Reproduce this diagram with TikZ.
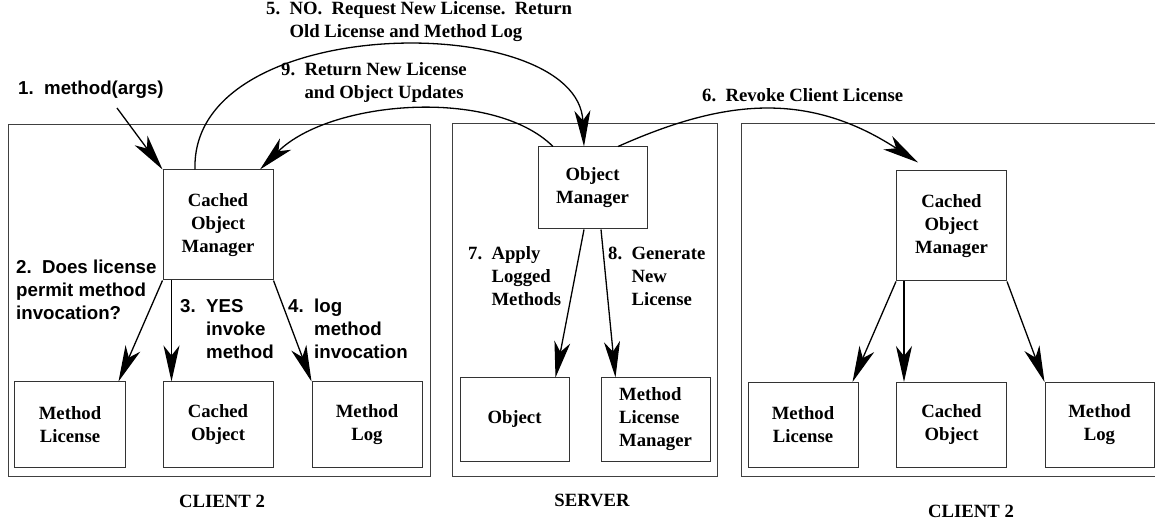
\documentclass[tikz,border=0pt]{standalone}
\usepackage{fontspec}
\setmainfont{Liberation Serif}
\setsansfont{Liberation Sans}
\usetikzlibrary{arrows.meta}

\newcommand{\txtrm}{\fontsize{18.7bp}{23bp}\selectfont\bfseries}
\newcommand{\txtsf}{\fontsize{18.7bp}{23bp}\selectfont\sffamily\bfseries}

\begin{document}
\begin{tikzpicture}[x=1bp,y=-1bp,
  frame/.style={draw=black!75,line width=1bp},
  box/.style={draw=black!80,line width=1bp,inner sep=0pt,minimum width=110bp,
    minimum height=85bp,align=center,font=\txtrm},
  tall/.style={box,minimum height=110bp},
  note/.style={inner sep=0pt,anchor=west,align=left,font=\txtrm},
  snote/.style={note,font=\txtsf},
  flow/.style={-{Stealth[length=36bp,width=16bp,inset=10bp]},line width=1.3bp}]
\useasboundingbox (0,0) rectangle (1155,520);
\clip (0,0) rectangle (1155,520);
%%
  % Frames
  \draw[frame] (8,125) rectangle (430,476);
  \draw[frame] (452,124) rectangle (717,476);
  \draw[frame] (741,124) rectangle (1162,476);
  % Node: client (left)
  \node[tall] (com1) at (218,225) {Cached\\Object\\Manager};
  \node[box] (ml1) at (70,424.5) {Method\\License};
  \node[box] (co1) at (218,424.5) {Cached\\Object};
  \node[box] (log1) at (367,424.5) {Method\\Log};
  % Node: server
  \node[box,minimum width=109bp,minimum height=82bp] (om) at (592.5,188) {Object\\Manager};
  \node[box,minimum width=109bp,minimum height=83bp] (obj) at (514.5,419.5) {Object};
  \node[box,minimum width=109bp,minimum height=83bp,align=left] (mlm) at (655.5,419.5) {Method\\License\\Manager};
  % Node: client (right)
  \node[tall] (com3) at (951.5,226) {Cached\\Object\\Manager};
  \node[box] (ml3) at (803,425) {Method\\License};
  \node[box] (co3) at (951.5,425) {Cached\\Object};
  \node[box,minimum width=109bp] (log3) at (1099.5,425) {Method\\Log};
  % Labels
  \node[snote] (l1) at (18,90) {1.~~method(args)};
  \node[snote] (l2) at (16,290) {2.~~Does license\\permit method\\invocation?};
  \node[snote] (l3) at (180,329) {3.~~YES\\\phantom{3.~~}invoke\\\phantom{3.~~}method};
  \node[snote] (l4) at (288,329) {4.~~log\\\phantom{4.~~}method\\\phantom{4.~~}invocation};
  \node[note] (l5) at (266,22) {5.~~NO.~~Request New License.~~Return\\\phantom{5.~~}Old License and Method Log};
  \node[note] (l6) at (702,95) {6.~~Revoke Client License};
  \node[note] (l7) at (468,276) {7.~~Apply\\\phantom{7.~~}Logged\\\phantom{7.~~}Methods};
  \node[note] (l8) at (608,276) {8.~~Generate\\\phantom{8.~~}New\\\phantom{8.~~}License};
  \node[note] (l9) at (281,83) {9.~~Return New License\\\phantom{9.~~}and Object Updates};
  \node[font=\txtrm] (c1) at (222,501) {CLIENT 2};
  \node[font=\txtrm] (srv) at (592,500) {SERVER};
  \node[font=\txtrm] (c3) at (971,511) {CLIENT 2};
  \coordinate (call) at (117,108);
  \coordinate (rv) at ([xshift=22bp,yshift=8bp]com3.north west);
  % Edge: call -> com1
  \draw[flow] (call) -- (com1.north west);
  % Edge: com1 -> ml1, co1, log1
  \draw[flow] (com1.south west) -- ([xshift=-7bp]ml1.north east);
  \draw[flow] ([xshift=9bp]com1.south west) -- ([xshift=9bp]co1.north west);
  \draw[flow] (com1.south east) -- (log1.north west);
  % Edge: com1 -> om (request)
  \draw[flow] ([xshift=-23bp]com1.north) .. controls (190,10) and (578,10) .. ([xshift=-8.5bp]om.north);
  % Edge: om -> com3 (revoke)
  \draw[flow] ([xshift=25.5bp]om.north) .. controls (718,102) and (804,88) .. (rv);
  % Edge: om -> obj, mlm
  \draw[flow] ([xshift=-8.5bp]om.south) -- ([xshift=-14bp]obj.north east);
  \draw[flow] ([xshift=8.5bp]om.south) -- ([xshift=15bp]mlm.north west);
  % Edge: om -> com1 (return)
  \draw[flow] ([xshift=-39.5bp]om.north) .. controls (493,87) and (330,100) .. ([xshift=42bp]com1.north);
  % Edge: com3 -> ml3, co3, log3
  \draw[flow] (com3.south west) -- ([xshift=-6bp]ml3.north east);
  \draw[flow] ([xshift=8bp]com3.south west) -- ([xshift=8bp]co3.north west);
  \draw[flow] (com3.south east) -- (log3.north west);
%
\end{tikzpicture}
\end{document}
